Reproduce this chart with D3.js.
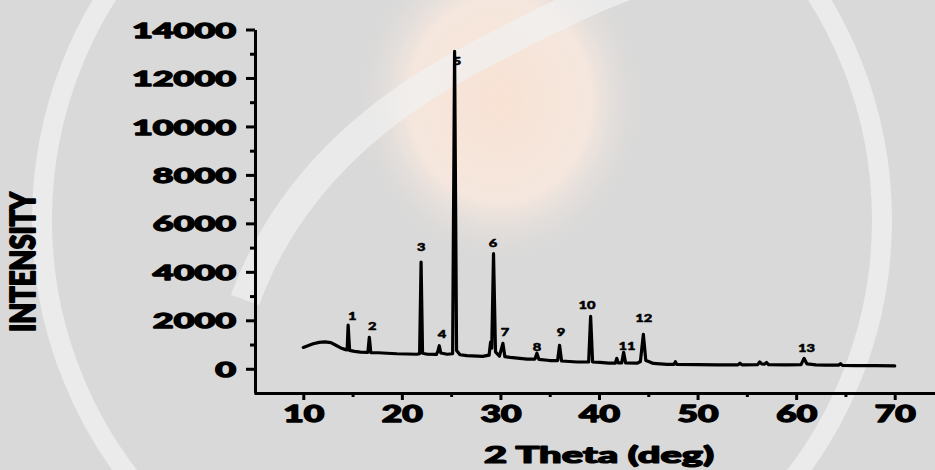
<!DOCTYPE html>
<html><head><meta charset="utf-8">
<script src="https://cdn.jsdelivr.net/npm/d3@7"></script>
<style>body{margin:0;background:#d9d9d9;overflow:hidden} svg{display:block}</style>
</head><body><svg id="c" width="935" height="470"></svg>
<script>
// ---- data ----
const theta = [10.0,10.4,11.0,11.6,12.2,12.8,13.3,13.8,14.3,14.45,14.55,14.7,15.2,15.8,16.55,16.7,16.85,17.6,18.5,19.5,20.5,21.5,21.8,21.95,22.1,22.6,23.5,23.65,23.8,23.95,24.6,25.15,25.35,25.55,25.9,26.6,28.2,28.85,29.0,29.12,29.3,29.5,29.9,30.25,30.45,31.0,32.7,33.5,33.7,33.9,35.0,35.8,36.0,36.2,37.8,38.95,39.15,39.35,40.1,41.0,41.65,41.8,41.95,42.3,42.5,42.7,43.9,44.2,44.5,44.75,45.1,45.5,46.9,47.6,47.75,47.9,50.0,52.0,54.1,54.3,54.5,56.1,56.3,56.5,56.8,57.0,57.2,59.0,60.5,60.8,61.1,62.0,63.0,64.3,64.5,64.7,66.0,68.0,70.0];
const intensity = [880,940,1030,1090,1110,1080,970,860,790,780,1800,760,720,690,680,1300,670,660,640,620,610,600,620,4400,640,600,590,720,950,650,600,620,13100,750,580,540,510,560,1100,850,4750,700,520,1050,500,470,400,400,640,390,340,340,970,320,280,280,2160,280,260,230,230,430,240,240,680,240,230,300,1420,340,290,220,180,180,290,180,170,160,160,230,160,170,280,200,190,260,170,160,170,430,200,160,150,150,210,140,130,130,120];
const peakLabels = ["1","2","3","4","5","6","7","8","9","10","11","12","13"];
const labelTheta = [14.96,16.99,21.96,24.08,25.6,29.25,30.47,33.7,36.14,38.77,42.83,44.55,61.06];
const labelIntensity = [2160,1750,5040,1420,12700,5200,1500,885,1500,2650,925,2080,845];
const yTicks = [0,2000,4000,6000,8000,10000,12000,14000];
const yMinorTicks = [1000,3000,5000,7000,9000,11000,13000];
const xTicks = [10,20,30,40,50,60,70];
const xMinorTicks = [15,25,35,45,55,65,75];
const xTitle = "2 Theta (deg)";
const yTitle = "INTENSITY";

const FONT = "Lato, 'Liberation Sans', Arial, sans-serif";
const svg = d3.select("#c");
const x = d3.scaleLinear().domain([5,75]).range([254,944]);
const y = d3.scaleLinear().domain([-1000,14000]).range([393,29.5]);

// ---- faint watermark background ----
const defs = svg.append("defs");
const rg = defs.append("radialGradient").attr("id","bulb");
rg.append("stop").attr("offset","0%").attr("stop-color","#f8e2d4");
rg.append("stop").attr("offset","60%").attr("stop-color","#f5e7de");
rg.append("stop").attr("offset","100%").attr("stop-color","#d9d9d9").attr("stop-opacity",0);
const wm = svg.append("g");
wm.append("rect").attr("width",935).attr("height",470).attr("fill","#d9d9d9");
wm.append("ellipse").attr("cx",500).attr("cy",100).attr("rx",150).attr("ry",170)
  .attr("fill","url(#bulb)");
wm.append("path").attr("d","M245,300 Q300,150 470,60 T660,-20")
  .attr("fill","none").attr("stroke","#f1f1f1").attr("stroke-width",30).attr("opacity",0.7);
wm.append("circle").attr("cx",462).attr("cy",220).attr("r",420)
  .attr("fill","none").attr("stroke","#efefef").attr("stroke-width",20).attr("opacity",0.8);

// ---- axes ----
function styleAxis(g){
  g.select(".domain").attr("stroke","#000").attr("stroke-width",3);
  g.selectAll(".tick line").attr("stroke","#000").attr("stroke-width",3);
}
function heavy(sel, sw){
  return sel.attr("font-family",FONT).attr("font-weight",900).attr("fill","#000")
    .attr("stroke","#000").attr("stroke-width",sw).attr("stroke-linejoin","round");
}
const gy = svg.append("g").attr("transform","translate(255,0)")
  .call(d3.axisLeft(y).tickValues(yTicks).tickSize(9).tickSizeOuter(0).tickPadding(9).tickFormat(d3.format("d")));
svg.append("g").attr("transform","translate(255,0)")
  .call(d3.axisLeft(y).tickValues(yMinorTicks).tickSize(5).tickSizeOuter(0).tickFormat(""))
  .call(g=>g.select(".domain").remove()).call(styleAxis);
styleAxis(gy);
const gx = svg.append("g").attr("transform","translate(0,393)")
  .call(d3.axisBottom(x).tickValues(xTicks).tickSize(7).tickSizeOuter(0).tickFormat(d3.format("d")));
svg.append("g").attr("transform","translate(0,393)")
  .call(d3.axisBottom(x).tickValues(xMinorTicks).tickSize(4).tickSizeOuter(0).tickFormat(""))
  .call(g=>g.select(".domain").remove()).call(styleAxis);
styleAxis(gx);

// tick label styling (stretched heavy font as in the reference)
const ty = heavy(gy.selectAll(".tick text"),1.3).attr("font-size",21).attr("dy","0.36em");
let w14 = 0; ty.each(function(d){ if(d===14000) w14=this.getComputedTextLength(); });
const syy = 104 / w14;
ty.attr("x", -19/syy).attr("transform",`scale(${syy},1)`);

const tx = heavy(gx.selectAll(".tick text"),1.3).attr("font-size",22).attr("dy",0).attr("y",29);
let w10 = 0; tx.each(function(d){ if(d===10) w10=this.getComputedTextLength(); });
const sxx = 41 / w10;
tx.attr("transform",`scale(${sxx},1)`).attr("x",0);

// axis titles
const xt = heavy(svg.append("text"),1.2).attr("font-size",22).attr("text-anchor","middle").text(xTitle);
const xtw = xt.node().getComputedTextLength();
xt.attr("transform",`translate(${x(40)},463) scale(${230/xtw},1)`);

const yt = heavy(svg.append("text"),1.4).attr("font-size",24).attr("text-anchor","middle").attr("dy","0.36em").text(yTitle);
const ytw = yt.node().getComputedTextLength();
yt.attr("transform",`translate(22.5,262) rotate(-90) scale(${140/ytw},${24/(24*0.72)})`);

// ---- XRD pattern ----
const pts = theta.map((t,i)=>[t,intensity[i]]);
svg.append("path").datum(pts)
  .attr("d", d3.line().x(d=>x(d[0])).y(d=>y(d[1])))
  .attr("fill","none").attr("stroke","#000").attr("stroke-width",3.2)
  .attr("stroke-linejoin","round").attr("stroke-linecap","round");

// ---- peak labels ----
const pl = heavy(svg.append("g").selectAll("text").data(peakLabels).join("text"),0.5)
  .attr("font-size",11).attr("text-anchor","middle").attr("dy","0.36em").text(d=>d);
let wl = 0; pl.each(function(d){ if(d==="10") wl=this.getComputedTextLength(); });
const sl = 17 / wl;
pl.attr("transform",(d,i)=>`translate(${x(labelTheta[i])},${y(labelIntensity[i])}) scale(${sl},1)`);
</script></body></html>
